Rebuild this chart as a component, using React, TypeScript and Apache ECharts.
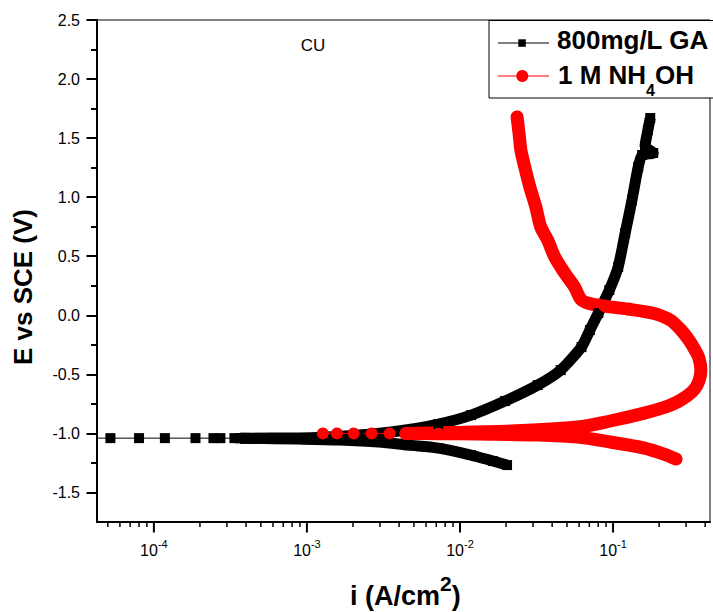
import React, { useEffect, useRef } from 'react';
import * as echarts from 'echarts';

// ---------- axis ranges & ticks ----------
const X_MIN = 4.25e-5;
const X_MAX = 0.43;
const Y_MIN = -1.75;
const Y_MAX = 2.5;
const yTickValues = [-1.5, -1.0, -0.5, 0, 0.5, 1.0, 1.5, 2.0, 2.5];
const xDecadeValues = [1e-4, 1e-3, 1e-2, 1e-1];
const xMinorMultipliers = [2, 3, 4, 5, 6, 7, 8, 9];
const xMinorDecades = [1e-5, 1e-4, 1e-3, 1e-2, 1e-1];

// ---------- 800mg/L GA (black squares) ----------
const blackTailI = [3.0e-5, 5.2e-5, 8.0e-5, 1.18e-4, 1.87e-4, 2.45e-4, 2.72e-4, 3.36e-4, 3.67e-4];
const blackTailE = [-1.04, -1.04, -1.04, -1.04, -1.04, -1.04, -1.04, -1.04, -1.04];
const blackCathI = [0.0203, 0.0164, 0.0118, 0.00721, 0.0046, 0.00294, 0.00162, 0.00089, 0.000367];
const blackCathE = [-1.268, -1.234, -1.183, -1.124, -1.099, -1.073, -1.056, -1.048, -1.04];
const blackAnodI = [0.000367, 0.00089, 0.00218, 0.00396, 0.00721, 0.01183, 0.01968, 0.0322, 0.0455, 0.0622, 0.0706, 0.0802, 0.0946, 0.108, 0.12, 0.133, 0.146, 0.155, 0.183, 0.162, 0.169, 0.175];
const blackAnodE = [-1.04, -1.039, -1.014, -0.98, -0.921, -0.845, -0.726, -0.591, -0.464, -0.269, -0.125, 0.019, 0.214, 0.409, 0.696, 0.976, 1.255, 1.357, 1.374, 1.433, 1.569, 1.67];

// ---------- 1 M NH4OH (red circles) ----------
const redTailI = [1.27e-3, 1.57e-3, 2.02e-3, 2.65e-3, 3.47e-3, 4.41e-3];
const redTailE = [-1.0, -1.0, -1.0, -1.0, -1.0, -1.0];
const redCathI = [0.258, 0.215, 0.16, 0.0959, 0.0586, 0.0322, 0.0131, 0.00721, 0.00441];
const redCathE = [-1.217, -1.175, -1.124, -1.073, -1.031, -1.014, -1.006, -1.002, -1.0];
const redAnodI = [0.00441, 0.00837, 0.0215, 0.0586, 0.0959, 0.16, 0.219, 0.262, 0.304, 0.337, 0.364, 0.375, 0.364, 0.343, 0.313, 0.278, 0.236, 0.18, 0.124, 0.0877, 0.0681, 0.0614, 0.0561, 0.0483, 0.0416, 0.0374, 0.0337, 0.0313, 0.0286, 0.0265, 0.025, 0.0243, 0.0236];
const redAnodE = [-1.0, -0.993, -0.98, -0.946, -0.895, -0.828, -0.777, -0.735, -0.684, -0.633, -0.557, -0.464, -0.362, -0.294, -0.21, -0.125, -0.04, 0.019, 0.053, 0.078, 0.104, 0.138, 0.239, 0.358, 0.493, 0.637, 0.747, 0.917, 1.086, 1.255, 1.399, 1.543, 1.679];

const SERIES_GA = '800mg/L GA';
const SERIES_NH = '1 M NH4OH';
const FONT = "'Liberation Sans', Arial, Helvetica, sans-serif";

const pairs = (xs: number[], ys: number[]) => xs.map((v, k) => [v, ys[k]]);

function lineSeries(name: string, xs: number[], ys: number[], color: string, symbol: string, size: number, width: number, cap: string, smooth: number) {
  return {
    type: 'line',
    name,
    data: pairs(xs, ys),
    symbol,
    symbolSize: size,
    showSymbol: true,
    clip: true,
    silent: true,
    smooth,
    itemStyle: { color },
    lineStyle: { color, width, join: 'round', cap },
    emphasis: { disabled: true },
  };
}

// tick marks for the log axis (majors at decades, minors at 2..9 x decade)
const xTickData: number[][] = [];
xDecadeValues.forEach((v) => xTickData.push([v, Y_MIN, 1]));
xMinorDecades.forEach((d) =>
  xMinorMultipliers.forEach((m) => {
    const v = m * d;
    if (v > X_MIN && v < X_MAX) xTickData.push([v, Y_MIN, 0]);
  })
);

const boldText = (text: string, x: number, y: number, size: number, align: string) => ({
  type: 'text',
  x,
  y,
  style: { text, align, verticalAlign: 'middle', fontSize: size, fontWeight: 'bold', fontFamily: FONT, fill: '#000' },
});

const option: any = {
  animation: false,
  backgroundColor: '#ffffff',
  grid: { left: 97, top: 20, width: 616, height: 502, show: true, borderColor: '#000', borderWidth: 1, backgroundColor: 'transparent' },
  xAxis: {
    type: 'log',
    logBase: 10,
    min: X_MIN,
    max: X_MAX,
    axisLine: { show: true, onZero: false, lineStyle: { color: '#000', width: 2 } },
    axisTick: { show: false },
    splitLine: { show: false },
    axisLabel: {
      margin: 16,
      interval: 0,
      color: '#000',
      formatter: (v: number) => {
        const e = Math.log10(v);
        if (Math.abs(e - Math.round(e)) > 1e-6) return '';
        return '{b|10}{s|' + Math.round(e) + '}';
      },
      rich: {
        b: { fontSize: 16, fontFamily: FONT, color: '#000', lineHeight: 20, verticalAlign: 'bottom' },
        s: { fontSize: 11, fontFamily: FONT, color: '#000', lineHeight: 11, verticalAlign: 'top' },
      },
    },
  },
  yAxis: {
    type: 'value',
    min: Y_MIN,
    max: Y_MAX,
    splitNumber: 8,
    axisLine: { show: true, onZero: false, lineStyle: { color: '#000', width: 2 } },
    axisTick: { show: true, length: 10.5, lineStyle: { color: '#000', width: 2 }, customValues: yTickValues },
    minorTick: { show: true, splitNumber: 2, length: 6, lineStyle: { color: '#000', width: 2 } },
    splitLine: { show: false },
    minorSplitLine: { show: false },
    axisLabel: {
      customValues: yTickValues,
      margin: 17,
      color: '#000',
      fontSize: 16,
      fontFamily: FONT,
      formatter: (v: number) => (Math.abs(v - Y_MIN) < 1e-9 ? '' : v.toFixed(1)),
    },
  },
  series: [
    {
      type: 'custom',
      silent: true,
      clip: false,
      data: xTickData,
      encode: { x: 0, y: 1 },
      renderItem: (_params: any, api: any) => {
        const p = api.coord([api.value(0), Y_MIN]);
        const major = api.value(2) === 1;
        return {
          type: 'line',
          shape: { x1: p[0], y1: p[1], x2: p[0], y2: p[1] + (major ? 10.5 : 5) },
          style: { stroke: '#000', lineWidth: major ? 2 : 1.5 },
        };
      },
    },
    lineSeries(SERIES_GA, blackTailI, blackTailE, '#000000', 'rect', 10, 1, 'butt', 0),
    lineSeries(SERIES_GA, blackCathI, blackCathE, '#000000', 'rect', 10, 11, 'butt', 0.3),
    lineSeries(SERIES_GA, blackAnodI, blackAnodE, '#000000', 'rect', 10, 11, 'butt', 0.2),
    lineSeries(SERIES_NH, redTailI, redTailE, '#ff0000', 'circle', 12, 1, 'round', 0),
    lineSeries(SERIES_NH, redCathI, redCathE, '#ff0000', 'circle', 12, 13, 'round', 0.3),
    lineSeries(SERIES_NH, redAnodI, redAnodE, '#ff0000', 'circle', 12, 13, 'round', 0.3),
  ],
  graphic: [
    // y axis title
    {
      type: 'text',
      x: 22.5,
      y: 287,
      rotation: Math.PI / 2,
      style: { text: 'E vs SCE (V)', x: 0, y: 0, align: 'center', verticalAlign: 'middle', fontSize: 26, fontWeight: 'bold', fontFamily: FONT, fill: '#000' },
    },
    // x axis title: i (A/cm²)
    boldText('i (A/cm', 440, 596, 27, 'right'),
    boldText('2', 440, 583.5, 21, 'left'),
    boldText(')', 451.7, 596, 27, 'left'),
    {
      type: 'text',
      x: 313,
      y: 45,
      style: { text: 'CU', align: 'center', verticalAlign: 'middle', fontSize: 17, fontFamily: FONT, fill: '#000' },
    },
    // legend box
    {
      type: 'group',
      z: 100,
      children: [
        { type: 'rect', shape: { x: 489, y: 20.5, width: 260, height: 77.5 }, style: { fill: '#fff', stroke: '#000', lineWidth: 1 } },
        { type: 'line', shape: { x1: 498, y1: 43, x2: 549, y2: 43 }, style: { stroke: '#000', lineWidth: 1 } },
        { type: 'rect', shape: { x: 518.3, y: 39.3, width: 7.5, height: 7.5 }, style: { fill: '#000' } },
        {
          type: 'text',
          x: 557,
          y: 40,
          style: { text: SERIES_GA, align: 'left', verticalAlign: 'middle', fontSize: 26, fontWeight: 'bold', fontFamily: FONT, fill: '#000' },
        },
        { type: 'line', shape: { x1: 498, y1: 76, x2: 549, y2: 76 }, style: { stroke: '#ff0000', lineWidth: 1 } },
        { type: 'circle', shape: { cx: 522.3, cy: 76, r: 6 }, style: { fill: '#ff0000' } },
        {
          type: 'text',
          x: 558,
          y: 61.5,
          style: {
            text: '{b|1 M NH}{s|4}{b|OH}',
            align: 'left',
            verticalAlign: 'top',
            rich: {
              b: { fontSize: 26, fontWeight: 'bold', fontFamily: FONT, fill: '#000', lineHeight: 27, verticalAlign: 'top' },
              s: { fontSize: 16, fontWeight: 'bold', fontFamily: FONT, fill: '#000', lineHeight: 12, padding: [21, 0, 0, 0], verticalAlign: 'top' },
            },
          },
        },
      ],
    },
  ],
};

export default function App() {
  const ref = useRef<HTMLDivElement>(null);
  useEffect(() => {
    if (!ref.current) return;
    const chart = echarts.init(ref.current, null, { renderer: 'svg' });
    chart.setOption(option);
    return () => chart.dispose();
  }, []);
  return (
    <div
      ref={ref}
      style={{ position: 'absolute', left: 0, top: 0, width: 713, height: 612, background: '#fff' }}
    />
  );
}
